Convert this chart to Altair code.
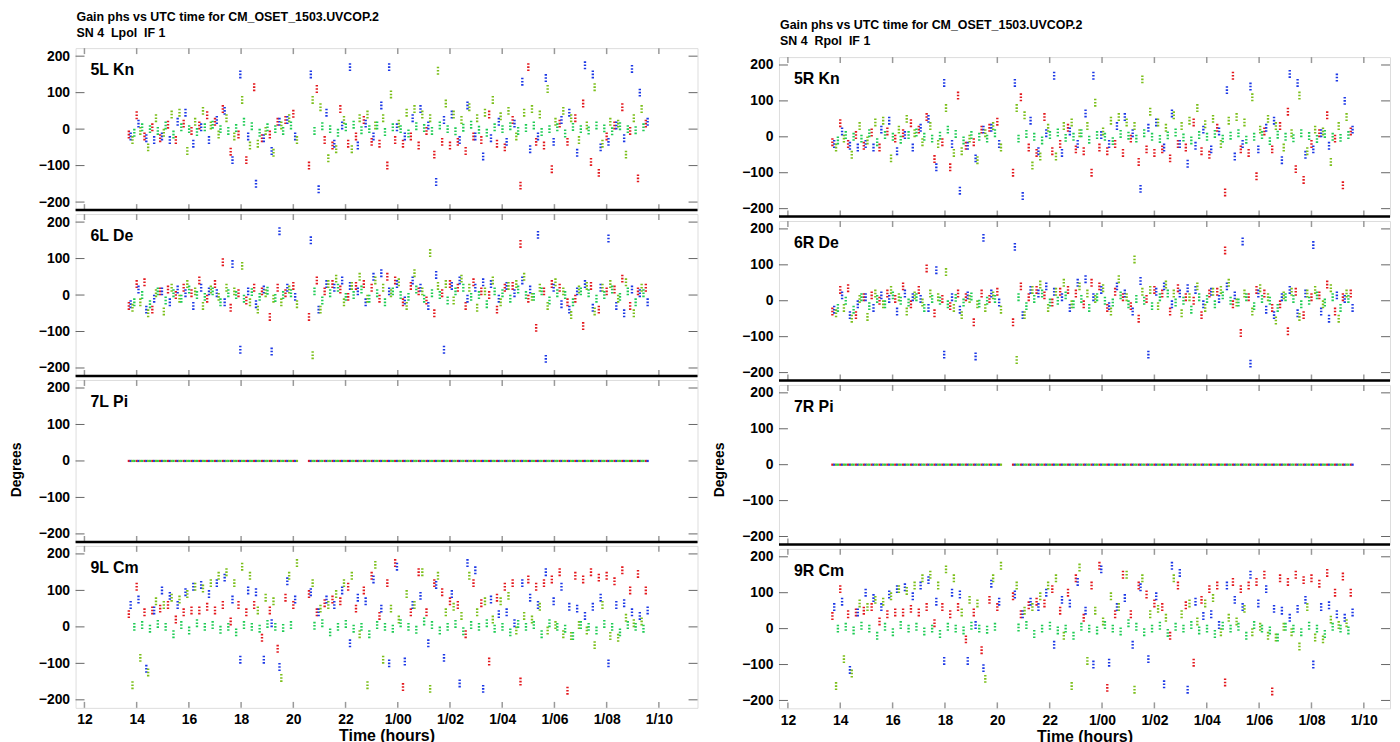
import altair as alt
import pandas as pd

FONT = "Liberation Sans"
SERIES = ["red", "blue", "yg", "green"]
COLORS = ["#e3191e", "#1c38e6", "#7bbf1a", "#1fcc55"]

TICK_HOURS = [12, 14, 16, 18, 20, 22, 24, 26, 28, 30, 32, 34]
Y_TICKS = [-200, -100, 0, 100, 200]

TITLE_1 = "Gain phs vs UTC time for CM_OSET_1503.UVCOP.2"
TITLE_L = "SN 4\u00a0 Lpol\u00a0 IF 1"
TITLE_R = "SN 4\u00a0 Rpol\u00a0 IF 1"

# scan times (hours, 24+ = next day)
T_RED = [13.70, 14.00, 14.30, 14.60, 14.90, 15.20, 15.50, 15.80, 16.10, 16.40, 16.70, 17.00, 17.30, 17.60,
         17.90, 18.20, 18.50, 18.80, 19.10, 19.40, 19.70, 20.00,
         20.60, 20.90, 21.20, 21.50, 21.80, 22.10, 22.40, 22.70, 23.00, 23.30, 23.60, 23.90, 24.20, 24.50,
         24.80, 25.10, 25.40, 25.70, 26.00, 26.30, 26.60, 26.90, 27.20, 27.50, 27.80, 28.10, 28.40, 28.70,
         29.00, 29.30, 29.60, 29.90, 30.20, 30.50, 30.80, 31.10, 31.40, 31.70, 32.00, 32.30, 32.60, 32.90,
         33.20, 33.50]
T_BLUE = [13.77, 14.07, 14.37, 14.67, 14.97, 15.27, 15.57, 15.87, 16.17, 16.47, 16.77, 17.07, 17.37, 17.67,
          17.97, 18.27, 18.57, 18.87, 19.17, 19.47, 19.77, 20.07,
          20.67, 20.97, 21.27, 21.57, 21.87, 22.17, 22.47, 22.77, 23.07, 23.37, 23.67, 23.97, 24.27, 24.57,
          24.87, 25.17, 25.47, 25.77, 26.07, 26.37, 26.67, 26.97, 27.27, 27.57, 27.87, 28.17, 28.47, 28.77,
          29.07, 29.37, 29.67, 29.97, 30.27, 30.57, 30.87, 31.17, 31.47, 31.77, 32.07, 32.37, 32.67, 32.97,
          33.27, 33.57]
T_YG = [13.84, 14.14, 14.44, 14.74, 15.04, 15.34, 15.64, 15.94, 16.24, 16.54, 16.84, 17.14, 17.44, 17.74,
        18.04, 18.34, 18.64, 18.94, 19.24, 19.54, 19.84, 20.14,
        20.74, 21.04, 21.34, 21.64, 21.94, 22.24, 22.54, 22.84, 23.14, 23.44, 23.74, 24.04, 24.34, 24.64,
        24.94, 25.24, 25.54, 25.84, 26.14, 26.44, 26.74, 27.04, 27.34, 27.64, 27.94, 28.24, 28.54, 28.84,
        29.14, 29.44, 29.74, 30.04, 30.34, 30.64, 30.94, 31.24, 31.54, 31.84, 32.14, 32.44, 32.74, 33.04,
        33.34]
T_GREEN = [13.91, 14.21, 14.51, 14.81, 15.11, 15.41, 15.71, 16.01, 16.31, 16.61, 16.91, 17.21, 17.51, 17.81,
           18.11, 18.41, 18.71, 19.01, 19.31, 19.61, 19.91,
           20.81, 21.11, 21.41, 21.71, 22.01, 22.31, 22.61, 22.91, 23.21, 23.51, 23.81, 24.11, 24.41, 24.71,
           25.01, 25.31, 25.61, 25.91, 26.21, 26.51, 26.81, 27.11, 27.41, 27.71, 28.01, 28.31, 28.61, 28.91,
           29.21, 29.51, 29.81, 30.11, 30.41, 30.71, 31.01, 31.31, 31.61, 31.91, 32.21, 32.51, 32.81, 33.11,
           33.41]

# antenna Kn (5L / 5R)
KN_RED = [-15, 38, -20, 5, -25, 12, -30, 15, -5, 10, 38, 20, 55, -62, -15, -85, 115, -25, -15, 20, 25, 42,
          -100, 110, -30, -45, 55, -40, -20, 25, -35, -40, -100, -30, -40, -20, -45, -5, -70, -35, -45, -35,
          -60, -20, -30, 40, -40, -50, 25, -155, 170, -35, -45, -110, 15, -35, 30, 70, -90, -120, -20, 10,
          60, -5, -135, 15]
KN_BLUE = [-20, 15, -25, -30, -20, -30, 20, 45, -40, 5, -30, 25, 50, -85, 150, -20, -150, -25, -60, 20, 25, -20,
           150, -165, 45, -40, 10, 170, -45, 15, -20, 65, 170, 5, -20, 30, 55, 10, -145, 25, 40, -30,
           65, -20, -75, -25, 20, -35, 15, 130, -55, -20, 140, -35, 25, 45, -65, 175, 150, -50, -35, 10,
           -25, 165, 100, 20]
KN_YG = [-30, -5, -50, 30, -10, 40, 45, -60, 20, 50, 10, -15, 30, -20, 80, -45, -40, -5, -65, 10, 30, -30,
         80, 60, -80, -55, 25, -55, 30, 40, 10, 30, 95, 15, 45, 55, 40, 30, 160, 70, 40, 25,
         60, 30, 45, 80, 35, 50, -20, 45, 55, 40, 110, 20, 50, 30, -30, 10, 115, -40, 20, 15,
         -70, 30, 55]
KN_GREEN = [-10, 5, 0, -5, 10, -15, 5, 0, -8, 5, 12, 0, -5, 3, 20, 8, -10, 5, 0, -5, 10,
            -5, 8, 0, -10, 5, 12, -3, 0, 10, -8, 5, 0, -12, 8, 3, -5, 10, 0, -6, 4,
            12, -2, -10, 5, 0, 8, -5, 3, 10, -8, 0, 5, -12, 6, 0, -4, 10, 2, -6, 8,
            0, -3, 5]

# antenna De (6L / 6R)
DE_RED = [-30, 30, 35, -40, 10, 15, 0, 20, 5, 40, -10, 30, 90, -35, 5, -15, 20, 10, -60, 20, 5, 25,
          -60, 40, 10, 30, 15, -5, 25, 30, 20, -10, 50, 40, -20, 25, 10, -15, -50, 5, 30, 20,
          -30, 35, 10, 0, -40, 20, 25, 140, -10, -90, 10, 30, 20, -20, -10, -85, 25, -40, 10, 15,
          45, -30, 10, 20]
DE_BLUE = [-25, 15, -40, -10, 10, -20, 15, 5, -30, 20, 10, 5, -20, 85, -150, 10, -25, 15, -155, 175, 20, -5,
           150, -40, 30, 20, 40, 25, 10, -20, 50, 60, 10, 30, -15, 40, 20, -30, 55, -150, 25, 40,
           -10, 20, 35, 30, -10, 25, 5, 40, 15, 165, -175, 20, -25, -40, 10, 30, -35, 20, 155, -30,
           -50, 15, 5, -20]
DE_YG = [-35, -20, -50, 5, -45, 20, -10, 30, 10, -30, 15, -5, 20, 10, 80, -20, -40, 5, -10, -20, 15, -25,
         -165, -40, 30, 45, -20, 25, 50, -10, 40, 20, 5, 35, -30, 60, 10, 115, 25, 30, -15, 45,
         20, -35, 10, 40, -20, 25, 30, 50, -5, 20, -30, 35, 10, -55, 15, 25, -45, 20, 30, -10,
         35, -50, 20]
DE_GREEN = [-20, 0, -25, 10, -15, 5, -10, 15, 0, -5, 10, -20, 5, 0, -10, 8, -5, 12, -8, 0, 5,
            10, -15, 5, 20, -5, 0, 15, -10, 5, -20, 10, 0, -5, 15, -10, 5, 0, -15, 10, 20,
            -5, 0, -25, 10, 5, -10, 15, 0, -5, 10, -15, 5, 0, -20, 10, 5, -10, 0, 15, -5,
            10, -20, 5]

# antenna Cm (9L / 9R)
CM_RED = [35, 110, 40, 45, 50, 60, 20, 40, 45, 45, 55, 45, 60, 15, 60, 40, 60, -30, 45, -60, 80, 60,
          90, 40, 65, 75, 70, 110, 50, 100, 140, 30, 120, 175, -165, 40, 150, 40, 120, 95, 70, 60,
          -20, 120, 65, -95, 80, 110, 120, -150, 130, 110, 120, 130, 150, -175, 140, 130, 150, 135, 140, 125,
          155, 100, 145, 100]
CM_BLUE = [60, 75, -115, 45, 100, 85, 60, 95, 110, 115, 90, 120, 135, 75, -90, 100, 95, -90, 10, -110, 125, 75,
           95, 40, 75, 60, 100, -45, 80, 70, 130, 50, -100, 165, -95, 60, 85, -45, 115, -85, 90, -155,
           175, 155, -170, 75, 35, 40, 10, 120, 80, 60, 150, 70, 110, 55, 50, 30, 55, 80, -100, 60,
           65, 40, 30, 45]
CM_YG = [-160, -85, -125, 70, 60, 80, 75, 90, 110, 105, 120, 140, 150, 120, 165, 140, 45, 80, 70, -140, 140, 175,
         120, 50, 60, 90, 120, 140, -20, -160, 170, -90, 50, 20, 90, 60, 150, -170, 140, 40, 55, 30,
         140, 40, 70, 20, 70, 85, -10, 30, 20, 55, -10, 5, -20, -25, 5, -10, -50, 60, -25, -30,
         25, 10, 15]
CM_GREEN = [0, 5, -5, 8, 0, -20, 5, -10, 10, 0, 5, -8, 0, -15, 5, 0, -5, 8, 0, -3, 5,
            3, 10, -15, 0, 8, -5, 0, -20, 5, 0, -5, 10, 0, -8, 15, 5, -10, 0, 8, -12,
            5, 0, 10, -5, 0, -15, 8, 0, 5, -20, 10, 0, -5, -25, 5, 0, -10, 8, 0, -15,
            5, 0, -5]

# antenna Pi (7L / 7R): all solutions at 0 degrees
PI_VALUE = 0

TIMES = [T_RED, T_BLUE, T_YG, T_GREEN]

CLUSTER = "M-0.3,-1H0.3V-0.6H-0.3Z M-0.3,-0.2H0.3V0.2H-0.3Z M-0.3,0.6H0.3V1H-0.3Z"


def panel_df(vals_list):
    rows = []
    for s, times, vals in zip(SERIES, TIMES, vals_list):
        for t, v in zip(times, vals):
            rows.append({"t": t, "v": v, "s": s})
    return pd.DataFrame(rows)


def pi_df():
    rows = []
    for s, times in zip(SERIES, TIMES):
        for t in times:
            rows.append({"t": t, "v": PI_VALUE, "s": s})
    return pd.DataFrame(rows)


LABEL_EXPR = ("datum.value < 24 ? toString(datum.value) : '1/' + (datum.value < 34 ? '0' : '') "
              "+ toString(datum.value - 24)")


def title_layers(lines, y0):
    out = []
    for i, line in enumerate(lines):
        out.append(alt.Chart(pd.DataFrame({"txt": [line]})).mark_text(
            align="left", baseline="top", fontSize=12.5, fontWeight="bold", font=FONT, color="black"
        ).encode(x=alt.value(1), y=alt.value(y0 + 16 * i), text="txt:N"))
    return out


def panel(df, label, W, H, xdom, bottom, degrees_y=None, title=None, boundary=True, flat=False):
    xs = alt.Scale(domain=xdom, nice=False, zero=False)
    ys = alt.Scale(domain=[-222, 222], nice=False, zero=False)
    if bottom:
        xenc = alt.X("t:Q", scale=xs, title="Time (hours)",
                     axis=alt.Axis(values=TICK_HOURS, labelExpr=LABEL_EXPR, ticks=False, domain=False,
                                   grid=False, labelFontSize=14, labelFontWeight="bold", labelFont=FONT,
                                   labelColor="black", labelPadding=5, labelFlush=False,
                                   titleFontSize=16, titleFontWeight="bold", titleFont=FONT,
                                   titleColor="black", titlePadding=1))
    else:
        xenc = alt.X("t:Q", scale=xs, axis=None)
    yaxis_kw = dict(values=Y_TICKS, ticks=False, domain=False, grid=False, labelFontSize=14,
                    labelFontWeight="bold", labelFont=FONT, labelColor="black", labelPadding=6)
    if degrees_y is not None:
        yenc = alt.Y("v:Q", scale=ys, title="Degrees",
                     axis=alt.Axis(titleFontSize=14, titleFontWeight="bold", titleFont=FONT,
                                   titleColor="black", titlePadding=15, titleY=degrees_y, **yaxis_kw))
    else:
        yenc = alt.Y("v:Q", scale=ys, title=None, axis=alt.Axis(**yaxis_kw))
    color = alt.Color("s:N", scale=alt.Scale(domain=SERIES, range=COLORS), legend=None)

    if flat:
        pts = alt.Chart(df).mark_square(size=5, opacity=1).encode(x=xenc, y=yenc, color=color)
    else:
        pts = alt.Chart(df).mark_point(shape=CLUSTER, filled=True, size=64, opacity=1).encode(
            x=xenc, y=yenc, color=color)

    ytd = pd.DataFrame({"v": Y_TICKS})
    xtd = pd.DataFrame({"t": TICK_HOURS})
    yl = alt.Chart(ytd).mark_rule(color="#666", strokeWidth=1).encode(
        y=yenc, x=alt.value(0), x2=alt.value(9))
    yr = alt.Chart(ytd).mark_rule(color="#666", strokeWidth=1).encode(
        y=yenc, x=alt.value(W - 9), x2=alt.value(W))
    xt = alt.Chart(xtd).mark_rule(color="#999", strokeWidth=1.5).encode(
        x=xenc, y=alt.value(0), y2=alt.value(6))
    xb = alt.Chart(xtd).mark_rule(color="#999", strokeWidth=1.5).encode(
        x=xenc, y=alt.value(H - 6), y2=alt.value(H))
    lab = alt.Chart(pd.DataFrame({"label": [label]})).mark_text(
        align="left", baseline="middle", fontSize=16, fontWeight="bold", font=FONT, color="black"
    ).encode(x=alt.value(15), y=alt.value(22), text="label:N")
    layers = [xt, xb, yl, yr, pts, lab]
    if boundary:
        layers.append(alt.Chart(pd.DataFrame({"a": [0]})).mark_rule(color="black", strokeWidth=2.5).encode(
            x=alt.value(0), x2=alt.value(W), y=alt.value(H)))
    if title is not None:
        layers.extend(title_layers(title, -37))
    return alt.layer(*layers).properties(width=W, height=H)


kn = panel_df([KN_RED, KN_BLUE, KN_YG, KN_GREEN])
de = panel_df([DE_RED, DE_BLUE, DE_YG, DE_GREEN])
cm = panel_df([CM_RED, CM_BLUE, CM_YG, CM_GREEN])
pi = pi_df()

WL, HL = 626, 163
XL = [11.66, 35.48]
WR, HR = 615, 160.5
XR = [11.66, 35.0]

left = alt.vconcat(
    panel(kn, "5L Kn", WL, HL, XL, False, title=[TITLE_1, TITLE_L]),
    panel(de, "6L De", WL, HL, XL, False),
    panel(pi, "7L Pi", WL, HL, XL, False, degrees_y=90, flat=True),
    panel(cm, "9L Cm", WL, HL, XL, True, boundary=False),
    spacing=0,
)

# header strip of the right column: holds its title and pushes its panels a little lower
right_header = alt.layer(*title_layers([TITLE_1, TITLE_R], -29)).properties(
    width=WR, height=7, view=alt.ViewBackground(strokeOpacity=0))

right = alt.vconcat(
    right_header,
    panel(kn, "5R Kn", WR, HR, XR, False),
    panel(de, "6R De", WR, HR, XR, False),
    panel(pi, "7R Pi", WR, HR, XR, False, degrees_y=85, flat=True),
    panel(cm, "9R Cm", WR, HR, XR, True, boundary=False),
    spacing=0,
)

chart = alt.concat(left, right, columns=2, spacing=12, align="none").properties(
    padding={"left": 0, "top": 0, "right": 0, "bottom": 0},
    background="white",
).configure_view(stroke="#888888", strokeWidth=1).configure(font=FONT)

chart.save("out.html", embed_options={"renderer": "svg", "actions": False})
